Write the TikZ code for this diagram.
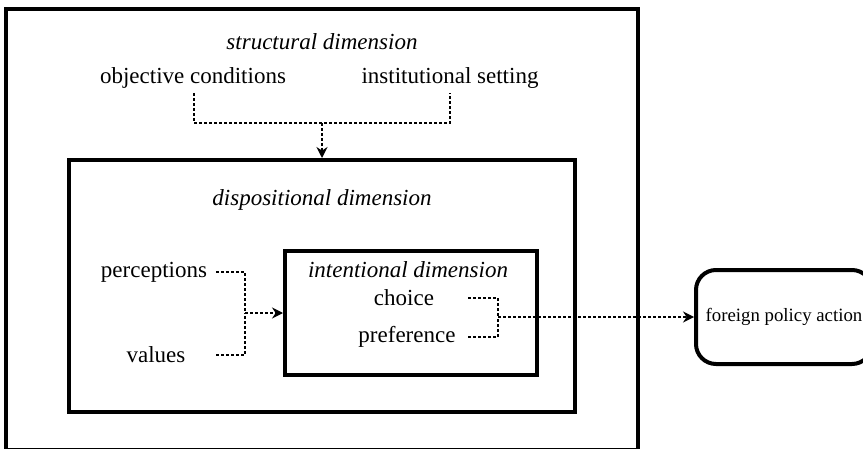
\documentclass[tikz,border=0pt]{standalone}
\usepackage{fontspec}
\setmainfont{Liberation Serif}
\usetikzlibrary{arrows.meta}
\tikzset{
  box/.style={draw, line width=2pt, rectangle, inner sep=0pt},
  lbl/.style={inner sep=3.3pt, font=\fontsize{11.5}{14}\selectfont},
  ttl/.style={inner sep=3.3pt, font=\fontsize{11.5}{14}\selectfont\itshape},
  dotline/.style={line width=0.7pt, dash pattern=on 1.5pt off 1pt},
  dotarrow/.style={dotline, -{Stealth[length=5.5pt,width=5.5pt]}}
}
\begin{document}
\begin{tikzpicture}[x=0.5pt,y=-0.5pt]
\useasboundingbox (0,0) rectangle (863,449);
\clip (0,0) rectangle (863,449);
% boxes
\node[box, minimum width=316pt, minimum height=220.5pt] (outer) at (322,229.5) {};
\node[box, minimum width=253pt, minimum height=126pt] (disp) at (322,286) {};
\node[box, minimum width=126pt, minimum height=62pt] (intent) at (411,313) {};
\node[box, rounded corners=10pt, minimum width=88pt, minimum height=47pt, font=\fontsize{9.4}{11}\selectfont] (fpa) at (784,317) {foreign policy action};
% texts
\node[ttl] (structt) at (322,42) {structural dimension};
\node[lbl] (objcond) at (193,78) {objective conditions};
\node[lbl] (inst) at (450,78) {institutional setting};
\node[ttl] (dispt) at (322,200) {dispositional dimension};
\node[lbl] (perc) at (154,272) {perceptions};
\node[lbl] (val) at (156,355) {values};
\node[ttl] (intt) at (408,270) {intentional dimension};
\node[lbl] (choice) at (404,298) {choice};
\node[lbl] (pref) at (407,337) {preference};
% junctions
\coordinate (j1) at (322,123);
\coordinate (j2) at (245,313);
\coordinate (j3) at (498,317);
\coordinate (o1) at (194,93);
\coordinate (i1) at (450,93);
\coordinate (p1) at (216,272);
\coordinate (v1) at (216,355);
\coordinate (c1) at (468,298);
\coordinate (r1) at (468,337);
% connectors
\draw[dotline] (o1) -- (o1 |- j1) -- (i1 |- j1) -- (i1);
\draw[dotarrow] (j1) -- (disp.north);
\draw[dotline] (p1) -| (j2);
\draw[dotline] (v1) -| (j2);
\draw[dotarrow] (j2) -- (intent.west);
\draw[dotline] (c1) -| (j3);
\draw[dotline] (r1) -| (j3);
\draw[dotarrow] (j3) -- (fpa.west);
\end{tikzpicture}
\end{document}
